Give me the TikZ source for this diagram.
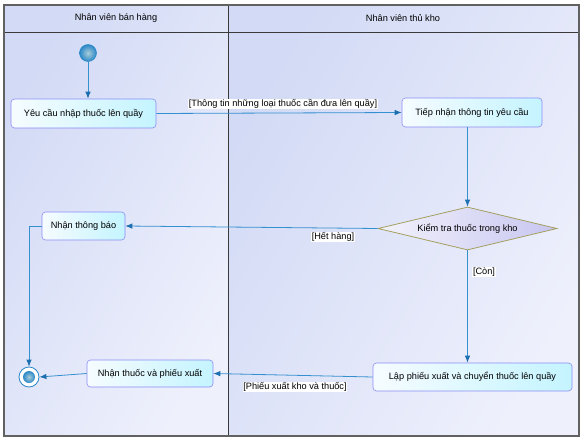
\documentclass[tikz,border=0pt]{standalone}
\usepackage{fontspec}
\setmainfont{Liberation Sans}
\usetikzlibrary{shapes.geometric,arrows.meta}
\definecolor{laneA}{HTML}{D2DAF5}
\definecolor{laneB}{HTML}{EEF0FC}
\definecolor{frame}{HTML}{3A3A3A}
\definecolor{actborder}{HTML}{8C8CF5}
\definecolor{actA}{HTML}{F6FCFF}
\definecolor{actB}{HTML}{C4F4FF}
\definecolor{decborder}{HTML}{A4A060}
\definecolor{decA}{HTML}{F2F2FC}
\definecolor{decB}{HTML}{C8C6F0}
\definecolor{flow}{HTML}{3590CF}
\definecolor{tipc}{HTML}{1C6FB0}
\definecolor{ballin}{HTML}{A8CCD8}
\definecolor{ballout}{HTML}{2A88C8}
\tikzset{
  txt/.style={font=\fontsize{9.2}{11}\selectfont},
  act/.style={txt, draw=actborder, line width=0.6pt, rounded corners=3.5pt,
    left color=actA, right color=actB, inner sep=0pt, align=center},
  dec/.style={txt, diamond, draw=decborder, line width=0.8pt,
    left color=decA, right color=decB, inner sep=0pt, aspect=4.16,
    minimum width=179pt, minimum height=43pt},
  flowline/.style={draw=flow, line width=0.8pt,
    -{Latex[length=7pt,width=5.5pt,color=tipc]}},
  guard/.style={txt, fill=white, inner sep=0.8pt},
  lanehead/.style={txt, inner sep=0pt},
  ballfill/.style={inner color=ballin, outer color=ballout},
}
\begin{document}
\begin{tikzpicture}[x=1pt,y=-1pt]
\useasboundingbox (0,0) rectangle (586,441);
\fill[white] (0,0) rectangle (586,441);
% swimlanes
\shade[left color=laneA, right color=laneB, shading angle=60] (4,5) rectangle (228,436);
\shade[left color=laneA, right color=laneB, shading angle=60] (228,5) rectangle (579,436);
\draw[frame, line width=0.7pt] (4,32) -- (579,32);
\draw[frame, line width=0.7pt] (228,5) -- (228,436);
\draw[frame!80, line width=1.2pt] (4,5) rectangle (579,436);
\node[lanehead] (h1) at (116,18.5) {Nhân viên bán hàng};
\node[lanehead] (h2) at (403,18.5) {Nhân viên thủ kho};
% nodes
\node[circle, minimum size=17pt, inner sep=0pt, draw=ballout, line width=0.5pt, ballfill] (start) at (88,53) {};
\node[act, minimum width=145pt, minimum height=29pt] (yc) at (83.5,113.5) {Yêu cầu nhập thuốc lên quầy};
\node[act, minimum width=140pt, minimum height=29pt] (tn) at (472,112.5) {Tiếp nhận thông tin yêu cầu};
\node[dec] (kt) at (467.5,228.5) {Kiểm tra thuốc trong kho};
\node[act, minimum width=83pt, minimum height=28pt] (nt) at (83.5,226) {Nhận thông báo};
\node[act, minimum width=199pt, minimum height=28pt] (lp) at (472.5,377) {Lập phiếu xuất và chuyển thuốc lên quầy};
\node[act, minimum width=126pt, minimum height=27pt] (nx) at (150,373.5) {Nhận thuốc và phiếu xuất};
\node[circle, minimum size=20pt, inner sep=0pt, draw=ballout, line width=0.8pt, fill=white] (end) at (29,377) {};
\node[circle, minimum size=12pt, inner sep=0pt, ballfill] (endin) at (end.center) {};
% flows
\draw[flowline] (start) -- (start |- yc.north);
\draw[flowline] (yc.east) -- (tn.west);
\node[guard] (g1) at (283,104) {[Thông tin những loại thuốc cần đưa lên quầy]};
\draw[flowline] (kt.north |- tn.south) -- (kt.north);
\draw[flowline] (kt.west) -- (nt.east);
\node[guard] (g2) at (333,237) {[Hết hàng]};
\draw[flowline] (kt.south) -- (lp.north -| kt.south);
\node[guard] (g3) at (484,272) {[Còn]};
\draw[flowline] (lp.west) -- (nx.east);
\node[guard] (g4) at (295,387) {[Phiếu xuất kho và thuốc]};
\draw[flowline] (nx.west) -- (end.east);
\draw[flowline] (nt.west) -| (end.north);
\end{tikzpicture}
\end{document}
